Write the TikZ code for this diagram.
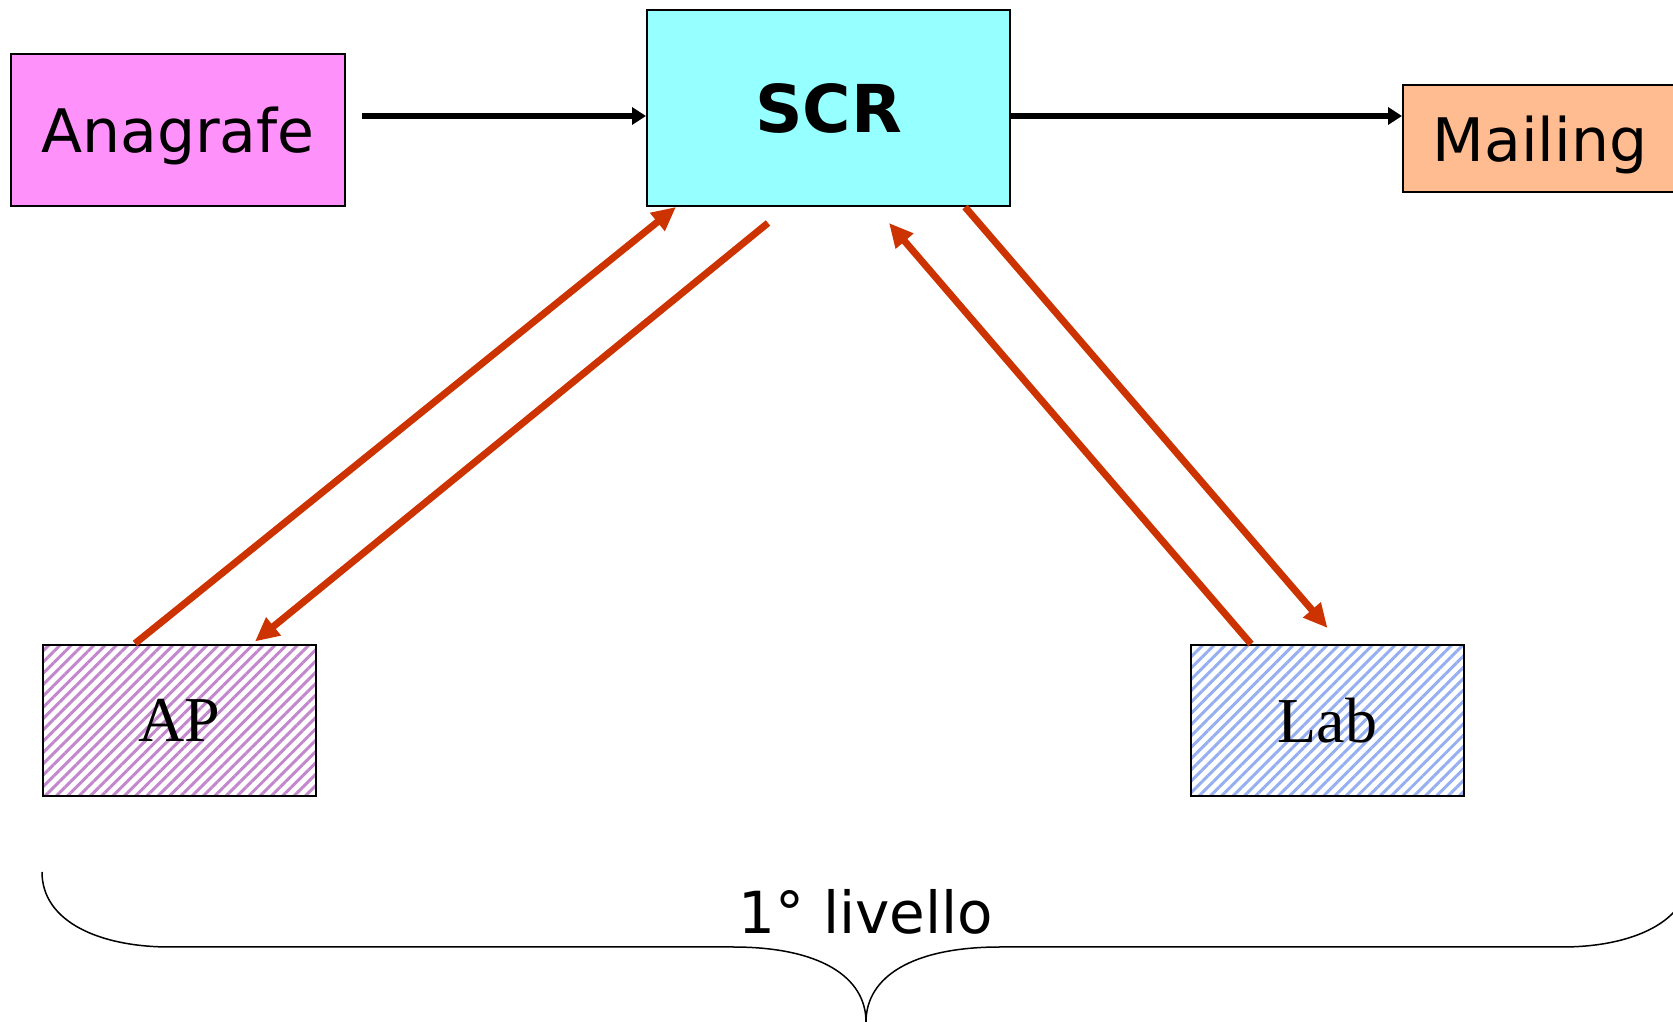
\documentclass[tikz,border=0pt]{standalone}
\usepackage{fontspec}
\setmainfont{Liberation Serif}
\newfontfamily\comicfont{DejaVu Sans}
\usetikzlibrary{arrows.meta,patterns.meta}
\definecolor{anapink}{RGB}{255,145,250}
\definecolor{scrcyan}{RGB}{150,255,255}
\definecolor{mailorange}{RGB}{255,188,145}
\definecolor{apviolet}{RGB}{195,135,205}
\definecolor{labblue}{RGB}{150,175,240}
\definecolor{arrowred}{RGB}{204,51,0}
\tikzset{
  box/.style={draw=black, line width=2pt, inner sep=0pt, text depth=0pt},
  flow/.style={draw=black, line width=6pt, -{Triangle[length=14pt,width=17pt]}},
  feed/.style={draw=arrowred, line width=7pt, -{Triangle[length=24pt,width=22pt]}},
}

\begin{document}
\begin{tikzpicture}[x=1pt,y=1pt]
        \useasboundingbox (0,0) rectangle (1673,1022);
        % boxes
        \node[box, fill=anapink, minimum width=334pt, minimum height=152pt,
          font=\comicfont\fontsize{60}{70}\selectfont] (anagrafe) at (178,892){Anagrafe};
        \node[box, fill=scrcyan, minimum width=363pt, minimum height=196pt,
          font=\comicfont\bfseries\fontsize{66}{76}\selectfont] (scr) at (828.5,914){SCR};
        \node[box, fill=mailorange, minimum width=274pt, minimum height=107pt,
          font=\comicfont\fontsize{60}{70}\selectfont] (mailing) at (1540,883.5){Mailing};
        \node[box, pattern={Lines[angle=45,distance=8pt,line width=3pt]}, pattern color=apviolet,
          minimum width=273pt, minimum height=151pt,
          font=\fontsize{64}{72}\selectfont] (ap) at (179,301.5){AP};
        \node[box, pattern={Lines[angle=45,distance=8pt,line width=3pt]}, pattern color=labblue,
          minimum width=273pt, minimum height=151pt,
          font=\fontsize{64}{72}\selectfont] (lab) at (1327.5,301.5){Lab};
        % top row
        \draw[flow] ([xshift=16pt,yshift=14pt]anagrafe.east) -- ([yshift=-8pt]scr.west);
        \draw[flow] ([yshift=-8pt]scr.east) -- ([yshift=22.5pt]mailing.west);
        % AP and Lab
        \draw[feed] ([xshift=-44pt]ap.north) -- ([xshift=-152.5pt]scr.south);
        \draw[feed] ([xshift=-60.5pt,yshift=-16pt]scr.south) -- ([xshift=76pt,yshift=2pt]ap.north);
        \draw[feed] ([xshift=-76.5pt]lab.north) -- ([xshift=60.5pt,yshift=-16pt]scr.south);
        \draw[feed] ([xshift=136.5pt]scr.south) -- ([yshift=16pt]lab.north);
        % brace
        \draw[line width=1.5pt] (42,150) .. controls (42,100) and (100,75) .. (170,75) -- (733,75)
          .. controls (820,75) and (866,45) .. (866,0);
        \draw[line width=1.5pt] (866,0) .. controls (866,45) and (912,75) .. (1000,75) -- (1562,75)
          .. controls (1632,75) and (1690,100) .. (1690,150);
        \node[font=\comicfont\fontsize{58}{66}\selectfont, text depth=0pt] (livello) at (866,111){1° livello};
\end{tikzpicture}
\end{document}
